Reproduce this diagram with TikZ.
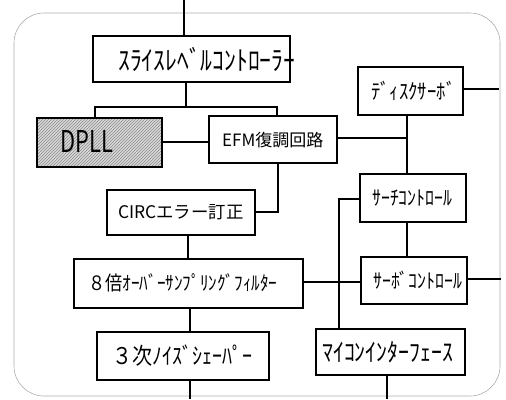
\documentclass[tikz,border=0pt]{standalone}
\usepackage{fontspec}
\usepackage{graphicx}
\usetikzlibrary{patterns}
\newfontfamily\jp{Noto Sans CJK JP}
\newcommand{\fs}[1]{\fontsize{#1}{#1}\selectfont}
\newcommand{\tallt}[1]{\scalebox{1}[1.15]{#1}}
\begin{document}
\begin{tikzpicture}[x=1pt,y=-1pt,
  box/.style={draw=black,line width=2.3pt,rectangle,inner sep=0pt,fill=white},
  lbl/.style={anchor=west,inner sep=0pt,font=\jp},
  wire/.style={draw=black,line width=2pt},
  frame/.style={draw=gray!65,line width=0.6pt,rounded corners=30pt}]
\useasboundingbox (0,0) rectangle (506,399);
% outer frame
\draw[frame] (14,13) rectangle (500,396);
% boxes
\node[box,minimum width=197pt,minimum height=46pt] (slice) at (191.5,59) {};
\node[box,minimum width=125pt,minimum height=49pt,
      preaction={fill=gray!30},pattern=north east lines,pattern color=gray!90] (dpll) at (99.5,142.5) {};
\node[box,minimum width=128pt,minimum height=47pt] (efm) at (273,139.5) {};
\node[box,minimum width=105pt,minimum height=48pt] (disk) at (410.5,91) {};
\node[box,minimum width=148pt,minimum height=45pt] (circ) at (181,212.5) {};
\node[box,minimum width=229pt,minimum height=49pt] (filt) at (188.5,283.5) {};
\node[box,minimum width=172pt,minimum height=48pt] (shaper) at (183,356) {};
\node[box,minimum width=106pt,minimum height=48pt] (search) at (413,198) {};
\node[box,minimum width=106pt,minimum height=47pt] (servo) at (414,280.5) {};
\node[box,minimum width=149pt,minimum height=46pt] (micom) at (390.5,352) {};
% labels
\node[lbl,font=\jp\fs{23.6}] (tslice) at (118,59) {\tallt{ｽﾗｲｽﾚﾍﾞﾙｺﾝﾄﾛｰﾗｰ}};
\node[lbl,font=\jp\fs{30}] (tdpll) at (60,142) {\scalebox{0.73}[1]{DPLL}};
\node[lbl,font=\jp\fs{17}] (tefm) at (222,140) {EFM復調回路};
\node[lbl,font=\jp\fs{18.7}] (tdisk) at (371,91) {\tallt{ﾃﾞｨｽｸｻｰﾎﾞ}};
\node[lbl,font=\jp\fs{17.4}] (tcirc) at (118,212) {CIRCエラー訂正};
\node[lbl,font=\jp\fs{17.2}] (tfilt) at (88,283) {\tallt{８倍ｵｰﾊﾞｰｻﾝﾌﾟﾘﾝｸﾞﾌｨﾙﾀｰ}};
\node[lbl,font=\jp\fs{20}] (tshaper) at (112,356) {\tallt{３次ﾉｲｽﾞｼｪｰﾊﾟｰ}};
\node[lbl,font=\jp\fs{17.8}] (tsearch) at (372,198) {\tallt{ｻｰﾁｺﾝﾄﾛｰﾙ}};
\node[lbl,font=\jp\fs{17.8}] (tservo) at (373,280) {\tallt{ｻｰﾎﾞｺﾝﾄﾛｰﾙ}};
\node[lbl,font=\jp\fs{21.8}] (tmicom) at (322,352) {\tallt{ﾏｲｺﾝｲﾝﾀｰﾌｪｰｽ}};
% free ends
\coordinate (topin) at (184,0);
\coordinate (splitL) at (95,107);
\coordinate (splitR) at (277,107);
\coordinate (diskout) at (499,89);
\coordinate (servoout) at (501,279);
\coordinate (shout) at (190,399);
\coordinate (micout) at (387,399);
% connectors
\draw[wire] (topin) -- (topin |- slice.north);
\draw[wire] (slice.south -| 186,0) -- (186,107);
\draw[wire] (dpll.north -| splitL) -- (splitL) -- (splitR) -- (efm.north -| splitR);
\draw[wire] (dpll.east |- 0,142) -- (efm.west |- 0,142);
\draw[wire] (efm.east |- 0,138) -- (407,138);
\draw[wire] (disk.south -| 407,0) -- (search.north -| 407,0);
\draw[wire] (disk.east |- diskout) -- (diskout);
\draw[wire] (efm.south -| 278,0) -- (278,212) -- (circ.east |- 0,212);
\draw[wire] (circ.south -| 188,0) -- (filt.north -| 188,0);
\draw[wire] (filt.south -| shout) -- (shaper.north -| shout);
\draw[wire] (shaper.south -| shout) -- (shout);
\draw[wire] (filt.east |- 0,282) -- (servo.west |- 0,282);
\draw[wire] (search.west |- 0,199) -- (339,199) -- (micom.north -| 339,0);
\draw[wire] (search.south -| 407,0) -- (servo.north -| 407,0);
\draw[wire] (servo.east |- servoout) -- (servoout);
\draw[wire] (micom.south -| micout) -- (micout);
\end{tikzpicture}
\end{document}
